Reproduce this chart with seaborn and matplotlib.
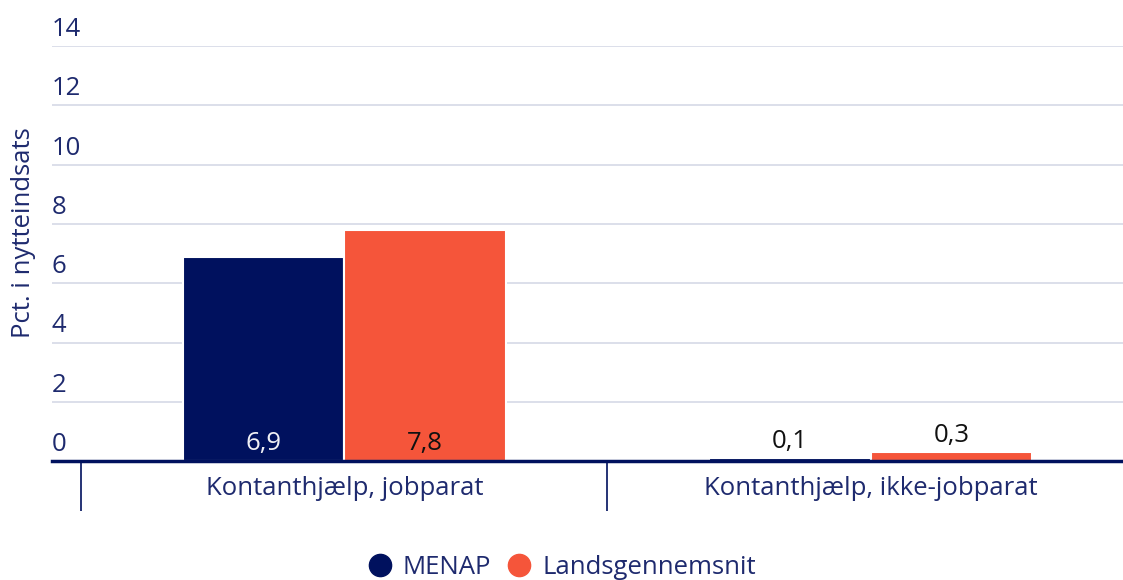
import matplotlib
matplotlib.use("Agg")
import matplotlib.pyplot as plt
import matplotlib.transforms as mtransforms
from matplotlib.lines import Line2D
import pandas as pd
import seaborn as sns

# values
categories = ["Kontanthjælp, jobparat", "Kontanthjælp, ikke-jobparat"]
groups = ["MENAP", "Landsgennemsnit"]
menap = [6.9, 0.1]
lands = [7.8, 0.3]
yticks = [0, 2, 4, 6, 8, 10, 12, 14]

navy = "#00115E"
orange = "#F5553A"
textcol = "#1E2A6E"
gridcol = "#D6D9E6"

df = pd.DataFrame({
    "kategori": categories * 2,
    "gruppe": [groups[0]] * 2 + [groups[1]] * 2,
    "pct": menap + lands,
})

sns.set_style("white")
plt.rcParams["font.family"] = ["Open Sans", "DejaVu Sans"]
fs = 18.5

fig = plt.figure(figsize=(11.23, 5.8), dpi=100)
ax = fig.add_axes([0.0463, 0.205, 0.9537, 0.7155])

sns.barplot(data=df, x="kategori", y="pct", hue="gruppe", palette=[navy, orange],
            saturation=1, width=0.615, edgecolor="white", linewidth=1.5, ax=ax, legend=False)

ax.set_ylim(0, 14)
ax.set_xlim(-0.556, 1.48)
ax.set_yticks(yticks)
ax.set_yticklabels([str(t) for t in yticks])
ax.grid(axis="y", color=gridcol, linewidth=1.2)
ax.set_axisbelow(True)
for s in ["top", "right", "left"]:
    ax.spines[s].set_visible(False)
ax.spines["bottom"].set_color(navy)
ax.spines["bottom"].set_linewidth(2.5)
ax.spines["bottom"].set_zorder(5)

# y tick labels sit above the gridlines, left aligned
ax.tick_params(axis="y", length=0, pad=0, labelsize=fs, labelcolor=textcol)
offset = mtransforms.ScaledTranslation(0, 3 / 72, fig.dpi_scale_trans)
for lab in ax.get_yticklabels():
    lab.set_horizontalalignment("left")
    lab.set_verticalalignment("bottom")
    lab.set_transform(lab.get_transform() + offset)

# category labels and divider ticks
ax.set_xticks([-0.5, 0.5], minor=True)
ax.tick_params(axis="x", which="major", bottom=True, length=0, pad=11, labelsize=fs, labelcolor=textcol)
ax.tick_params(axis="x", which="minor", bottom=True, length=36, width=1.2, color=navy, direction="out")
ax.set_xlabel("")
ax.set_ylabel("Pct. i nytteindsats", fontsize=fs, color=textcol)
ax.yaxis.set_label_coords(-0.015, 0.55)

# value labels
for i, cont in enumerate(ax.containers):
    for bar in cont:
        h = bar.get_height()
        x = bar.get_x() + bar.get_width() / 2
        txt = f"{h:.1f}".replace(".", ",")
        if h > 1:
            col = "#F0F0F5" if i == 0 else "#111111"
            ax.text(x, 0.37, txt, ha="center", va="baseline", fontsize=fs, color=col)
        else:
            ax.text(x, h + 0.35, txt, ha="center", va="baseline", fontsize=fs, color="#111111")

handles = [Line2D([], [], marker="o", linestyle="", markersize=16, color=c) for c in [navy, orange]]
leg = fig.legend(handles, groups, loc="lower center", bbox_to_anchor=(0.5, -0.04), ncol=2,
                 frameon=False, fontsize=fs, handlelength=1.0, handletextpad=0.4, columnspacing=0.6)
for t in leg.get_texts():
    t.set_color(textcol)

fig.savefig("out.png", dpi=100)
